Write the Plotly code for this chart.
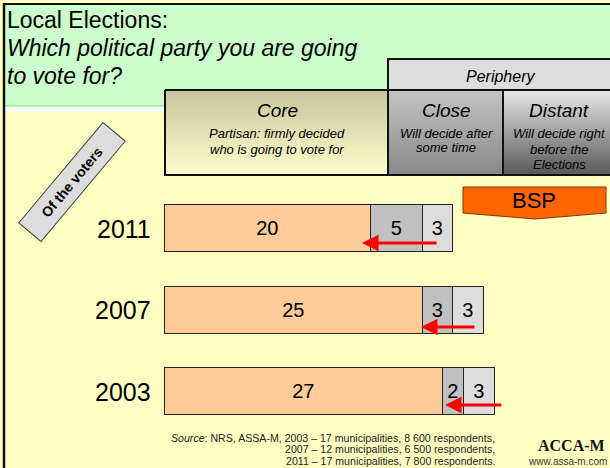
import plotly.graph_objects as go

# ---- data ----
years = ["2011", "2007", "2003"]
core = [20, 25, 27]
close = [5, 3, 2]
distant = [3, 3, 3]
category_order = ["2003", "2007", "2011"]

FONT = "Arial, Liberation Sans, sans-serif"
W, H = 610, 468
PX_PER_UNIT = 10.3
X0_PX = 165
x_range = [-X0_PX / PX_PER_UNIT, (W - X0_PX) / PX_PER_UNIT]
ROW_PX = 81.5
Y_TOP_CENTER = 228.5  # pixel center of the top category
y_range = [-(H - (Y_TOP_CENTER + 2 * ROW_PX)) / ROW_PX, 2 + Y_TOP_CENTER / ROW_PX]

fig = go.Figure()

seg_colors = ["#FFCC99", "#C0C0C0", "#DDDDDD"]
for name, vals, col in zip(["Core", "Close", "Distant"], [core, close, distant], seg_colors):
    fig.add_trace(go.Bar(
        y=years, x=vals, orientation="h", name=name,
        marker=dict(color=col, line=dict(color="#222222", width=1.5)),
        width=47 / ROW_PX,
        texttemplate="%{x}", textposition="inside", insidetextanchor="middle",
        textfont=dict(size=20, color="black", family=FONT), textangle=0,
        constraintext="none", hoverinfo="skip", showlegend=False,
        xaxis="x", yaxis="y",
    ))

# ---- header boxes with vertical gradients (pixel axes x2/y2) ----
def grad_box(x0, x1, y0, y1, top, bottom, width=2):
    fig.add_trace(go.Scatter(
        x=[x0, x1, x1, x0, x0], y=[y0, y0, y1, y1, y0],
        mode="lines", fill="toself",
        line=dict(color="#111111", width=width),
        fillgradient=dict(type="vertical", colorscale=[[0, bottom], [1, top]]),
        hoverinfo="skip", showlegend=False, xaxis="x2", yaxis="y2",
    ))

grad_box(165, 388, 90, 175, "#C8C49C", "#FFFFCC")
grad_box(388, 503, 90, 175, "#C4C4C4", "#888888")
grad_box(503, 612, 90, 175, "#E8E8E8", "#585858")

shapes = []
# page background pieces
shapes.append(dict(type="rect", xref="x2", yref="y2", x0=4, x1=612, y0=4, y1=106,
                   fillcolor="#CCFFCC", line=dict(width=0), layer="below"))
shapes.append(dict(type="rect", xref="x2", yref="y2", x0=4, x1=612, y0=106, y1=112,
                   fillcolor="#FFFFFF", line=dict(width=0), layer="below"))
shapes.append(dict(type="line", xref="x2", yref="y2", x0=4, x1=612, y0=106, y1=106,
                   line=dict(color="#66EE66", width=1.2), layer="below"))
# black frame top and left
shapes.append(dict(type="line", xref="x2", yref="y2", x0=4, x1=612, y0=4, y1=4,
                   line=dict(color="#111111", width=2)))
shapes.append(dict(type="line", xref="x2", yref="y2", x0=4, x1=4, y0=3, y1=470,
                   line=dict(color="#111111", width=2.5)))
# periphery box
shapes.append(dict(type="rect", xref="x2", yref="y2", x0=388, x1=612, y0=59, y1=90,
                   fillcolor="#DDDDDD", line=dict(color="#111111", width=2)))
# BSP chevron
shapes.append(dict(type="path", xref="x2", yref="y2",
                   path="M 463 187 L 606 187 L 606 213 L 535 219 L 463 213 Z",
                   fillcolor="#FF6600", line=dict(color="#7A3A00", width=1)))

annotations = []
def txt(x, y, s, size, italic=False, bold=False, family=FONT, xanchor="center", color="black", align="center"):
    if italic:
        s = "<i>" + s + "</i>"
    if bold:
        s = "<b>" + s + "</b>"
    annotations.append(dict(xref="x2", yref="y2", x=x, y=y, text=s, showarrow=False,
                            xanchor=xanchor, yanchor="middle", align=align,
                            font=dict(size=size, color=color, family=family)))

# title
txt(5, 20, "Local Elections:", 23, xanchor="left")
txt(5, 48, "Which political party you are going", 23, italic=True, xanchor="left")
txt(5, 76, "to vote for?", 23, italic=True, xanchor="left")

# header texts
txt(500, 76, "Periphery", 16, italic=True)
txt(277, 110, "Core", 19, italic=True)
txt(277, 133, "Partisan: firmly decided", 13, italic=True)
txt(277, 149, "who is going to vote for", 13, italic=True)
txt(446, 110, "Close", 19, italic=True)
txt(446, 133, "Will decide after", 13, italic=True)
txt(446, 147, "some time", 13, italic=True)
txt(559, 110, "Distant", 19, italic=True)
txt(559, 133, "Will decide right", 13, italic=True)
txt(559, 149, "before the", 13, italic=True)
txt(559, 164, "Elections", 13, italic=True)

# BSP label
txt(534, 200, "BSP", 22)

# "Of the voters" rotated label
annotations.append(dict(xref="x2", yref="y2", x=72, y=182, text="<b>Of the voters</b>",
                        showarrow=False, textangle=-50, bgcolor="#DDDDDD",
                        bordercolor="#444444", borderwidth=1, borderpad=6, width=118,
                        font=dict(size=14, color="black", family=FONT)))

# source (three right-aligned lines)
source_lines = ["<i>Source</i>: NRS, ASSA-M, 2003 – 17 municipalities, 8 600 respondents,",
                "2007 – 12 municipalities, 6 500 respondents,",
                "2011 – 17 municipalities, 7 800 respondents."]
for i, line in enumerate(source_lines):
    txt(497, 437.5 + 11.8 * i, line, 10.6, xanchor="right", color="#222222")
txt(571, 445, "ACCA-M", 16, bold=True, family="Liberation Serif, Times New Roman, serif", color="#111111")
txt(609, 461, "www.assa-m.com", 10, color="#333333", xanchor="right")

# year labels from data (category axis -> use category index)
for yv in years:
    annotations.append(dict(xref="x", yref="y", x=0, y=category_order.index(yv), text=yv,
                            showarrow=False, xanchor="right", yanchor="middle", xshift=-12,
                            font=dict(size=25, color="black", family=FONT)))

# red arrows
for (xt, xh, yy) in [(438, 362, 243), (476, 421, 327), (503, 445, 405)]:
    annotations.append(dict(xref="x2", yref="y2", axref="x2", ayref="y2",
                            x=xh, y=yy, ax=xt, ay=yy, text="", showarrow=True,
                            arrowhead=2, arrowsize=1.1, arrowwidth=3, arrowcolor="#FF0000"))

fig.update_layout(
    width=W, height=H, margin=dict(l=0, r=0, t=0, b=0),
    paper_bgcolor="#FFFFC4", plot_bgcolor="rgba(0,0,0,0)",
    barmode="stack", bargap=0,
    xaxis=dict(range=x_range, visible=False, domain=[0, 1], fixedrange=True),
    yaxis=dict(type="category", categoryorder="array", categoryarray=category_order,
               range=y_range, visible=False, domain=[0, 1], fixedrange=True),
    xaxis2=dict(range=[0, W], visible=False, overlaying="x", anchor="y2", fixedrange=True),
    yaxis2=dict(range=[H, 0], visible=False, overlaying="y", anchor="x2", fixedrange=True),
    shapes=shapes, annotations=annotations,
    font=dict(family=FONT), showlegend=False,
)

fig.write_html("out.html", config={"displayModeBar": False},
               post_script="document.body.style.margin='0';document.body.style.overflow='hidden';")
